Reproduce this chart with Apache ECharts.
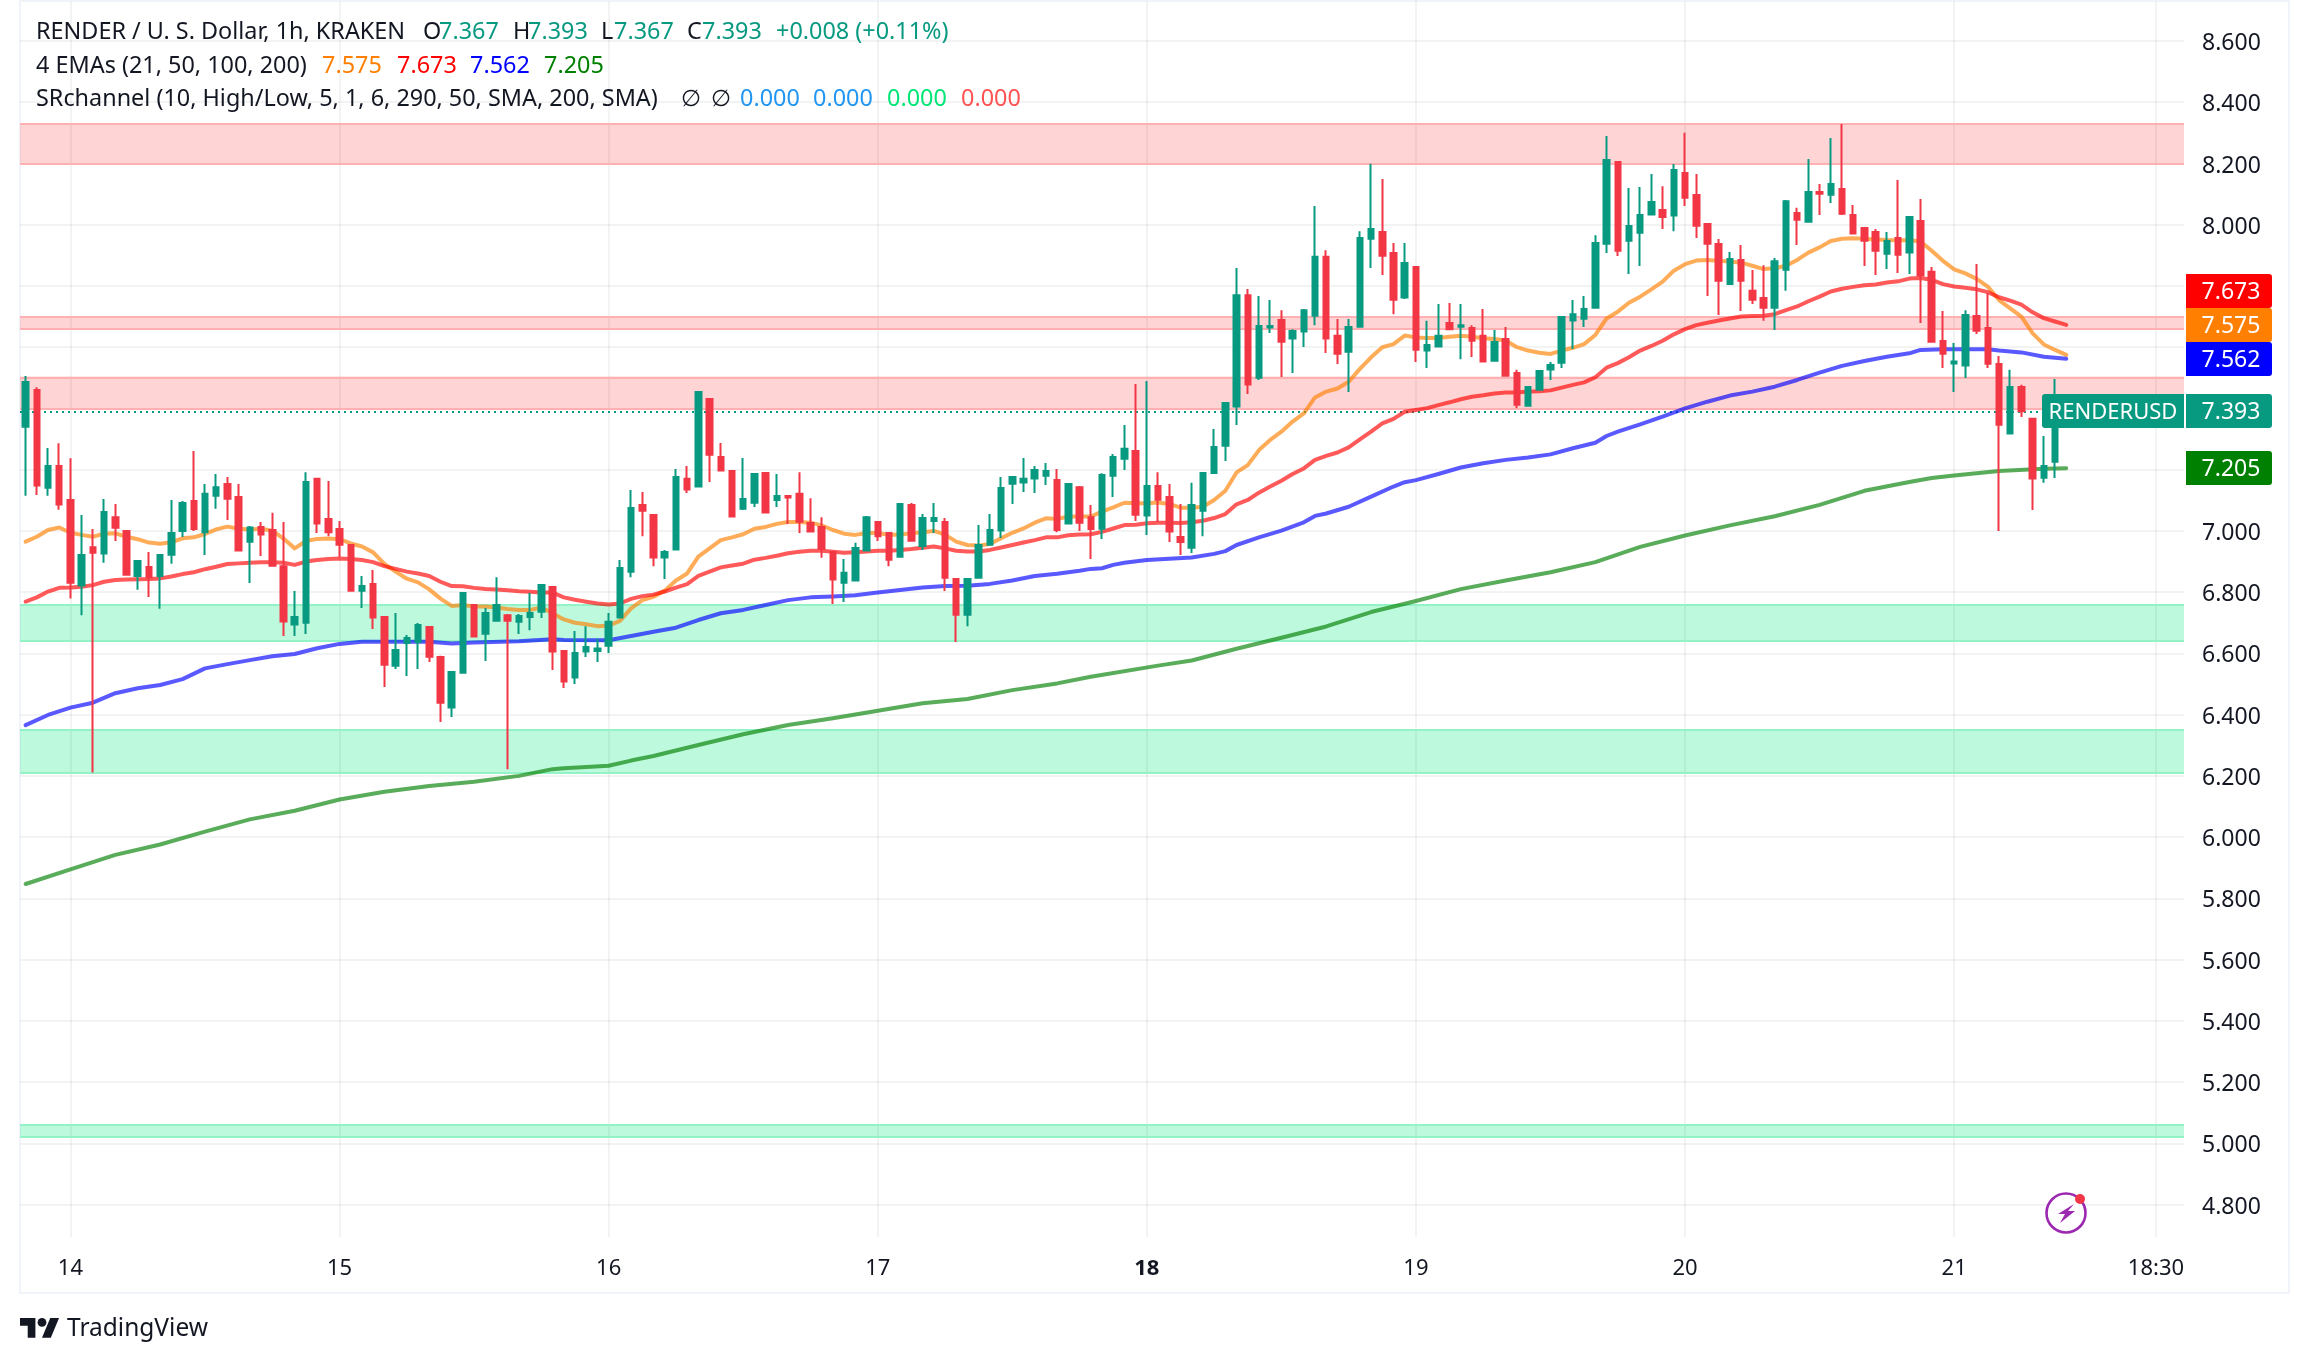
<!DOCTYPE html>
<html><head><meta charset="utf-8"><title>RENDER / U. S. Dollar</title>
<script src="https://cdn.jsdelivr.net/npm/echarts@6/dist/echarts.min.js"></script>
<style>html,body{margin:0;padding:0;background:#fff}#c{width:2308px;height:1364px}</style></head>
<body><div id="c"></div>
<script>
const slotCount = 193;
const dayTickIndex = [4,28,52,76,100,124,148,172,190];
const dayTickLabels = ['14','15','16','17','18','19','20','21','18:30'];
const priceTicks = [4.8,5.0,5.2,5.4,5.6,5.8,6.0,6.2,6.4,6.6,6.8,7.0,7.2,7.4,7.6,7.8,8.0,8.2,8.4,8.6];
const opens = [7.340,7.460,7.141,7.212,7.101,6.822,6.947,6.926,7.045,7.000,
6.853,6.882,6.853,6.922,7.000,7.098,6.996,7.115,7.153,7.111,
6.965,7.013,7.003,6.885,6.694,6.700,7.170,7.039,7.006,6.954,
6.805,6.827,6.719,6.560,6.634,6.637,6.686,6.588,6.423,6.537,
6.758,6.664,6.707,6.725,6.703,6.719,6.736,6.817,6.608,6.521,
6.606,6.608,6.625,6.717,6.867,7.085,7.052,6.913,6.939,7.170,
7.145,7.431,7.241,7.196,7.072,7.092,7.189,7.101,7.114,7.121,
7.026,7.013,6.931,6.831,6.838,6.936,7.029,6.993,6.916,7.085,
6.951,7.032,7.029,6.843,6.726,6.847,6.955,7.001,7.154,7.158,
7.171,7.180,7.166,7.024,7.143,7.045,7.007,7.180,7.236,7.261,
7.050,7.147,7.111,6.980,6.945,7.066,7.189,7.278,7.406,7.770,
7.500,7.664,7.689,7.628,7.651,7.703,7.895,7.637,7.585,7.667,
7.954,7.976,7.908,7.762,7.862,7.589,7.602,7.679,7.667,7.663,
7.637,7.556,7.627,7.516,7.409,7.461,7.527,7.549,7.687,7.693,
7.729,7.938,8.205,7.948,7.974,8.033,8.048,8.030,8.169,8.097,
8.002,7.937,7.806,7.885,7.784,7.761,7.729,7.853,8.038,8.010,
8.107,8.098,8.117,8.032,7.989,7.976,7.905,7.957,7.909,8.012,
7.846,7.620,7.547,7.540,7.702,7.663,7.545,7.318,7.470,7.366,
7.174,7.226,7.367];
const closes = [7.486,7.148,7.212,7.086,6.831,6.921,6.929,7.062,7.010,6.857,
6.902,6.849,6.921,6.993,7.091,7.006,7.121,7.143,7.105,6.936,
7.011,6.988,6.886,6.704,6.719,7.160,7.024,6.996,6.955,6.805,
6.820,6.717,6.563,6.611,6.650,6.693,6.589,6.439,6.539,6.797,
6.655,6.732,6.758,6.707,6.722,6.732,6.823,6.606,6.508,6.601,
6.621,6.616,6.703,6.879,7.075,7.066,6.913,6.931,7.176,7.135,
7.454,7.249,7.197,7.047,7.104,7.186,7.060,7.114,7.109,7.030,
6.998,6.942,6.841,6.863,6.944,7.045,6.983,6.906,7.088,6.968,
7.042,7.042,6.847,6.726,6.843,6.954,7.003,7.140,7.176,7.170,
7.199,7.196,7.003,7.153,7.027,7.006,7.183,7.241,7.268,7.053,
7.147,7.102,6.998,6.964,7.085,7.189,7.274,7.418,7.770,7.478,
7.669,7.669,7.618,7.653,7.721,7.895,7.628,7.579,7.666,7.957,
7.986,7.899,7.755,7.875,7.592,7.607,7.637,7.659,7.672,7.621,
7.553,7.617,7.507,7.412,7.470,7.522,7.542,7.699,7.708,7.725,
7.940,8.211,7.915,7.996,8.032,8.074,8.025,8.179,8.088,7.997,
7.938,7.817,7.888,7.817,7.755,7.729,7.881,8.077,8.016,8.107,
8.101,8.133,8.036,7.971,7.948,7.915,7.947,7.902,8.025,7.834,
7.618,7.579,7.553,7.705,7.654,7.546,7.347,7.470,7.391,7.171,
7.212,7.367,7.393];
const highs = [7.506,7.469,7.271,7.286,7.237,7.052,7.006,7.104,7.088,7.003,
6.902,6.931,6.921,7.101,7.098,7.261,7.153,7.186,7.176,7.153,
7.016,7.029,7.059,7.029,6.804,7.192,7.170,7.163,7.032,6.954,
6.853,6.872,6.722,6.732,6.660,6.699,6.686,6.592,6.539,6.797,
6.761,6.748,6.849,6.729,6.729,6.797,6.823,6.817,6.608,6.673,
6.689,6.647,6.732,6.905,7.134,7.127,7.055,6.938,7.202,7.212,
7.454,7.431,7.287,7.196,7.238,7.186,7.192,7.186,7.114,7.192,
7.107,7.045,6.934,6.908,6.961,7.049,7.029,6.996,7.088,7.091,
7.055,7.091,7.042,6.843,6.843,7.019,7.055,7.176,7.176,7.238,
7.212,7.222,7.202,7.153,7.147,7.085,7.188,7.251,7.346,7.480,
7.490,7.192,7.153,7.088,7.157,7.189,7.333,7.418,7.859,7.790,
7.767,7.754,7.721,7.659,7.725,8.061,7.917,7.692,7.692,7.979,
8.199,8.149,7.940,7.940,7.862,7.686,7.741,7.744,7.741,7.672,
7.725,7.656,7.666,7.526,7.470,7.522,7.552,7.699,7.754,7.767,
7.966,8.290,8.205,8.120,8.123,8.166,8.126,8.198,8.300,8.166,
8.002,7.953,7.911,7.934,7.852,7.868,7.891,8.081,8.055,8.215,
8.133,8.283,8.329,8.064,7.989,7.986,7.976,8.146,8.025,8.084,
7.862,7.718,7.614,7.721,7.872,7.777,7.571,7.526,7.477,7.366,
7.310,7.496,7.393];
const lows = [7.115,7.117,7.115,7.069,6.779,6.725,6.211,6.896,6.967,6.856,
6.808,6.784,6.746,6.893,6.980,7.000,6.921,7.072,7.036,6.934,
6.830,6.918,6.885,6.657,6.657,6.663,6.993,6.983,6.915,6.801,
6.748,6.680,6.490,6.549,6.526,6.549,6.572,6.376,6.392,6.537,
6.654,6.575,6.706,6.222,6.663,6.676,6.716,6.546,6.487,6.500,
6.588,6.572,6.601,6.716,6.849,6.983,6.885,6.843,6.938,7.124,
7.143,7.160,7.196,7.045,7.068,7.078,7.059,7.078,7.023,6.993,
6.996,6.912,6.761,6.768,6.836,6.934,6.967,6.885,6.912,6.967,
6.938,6.993,6.804,6.637,6.689,6.846,6.954,6.977,7.088,7.127,
7.124,7.150,6.996,7.023,7.000,6.908,6.974,7.111,7.199,7.032,
6.987,7.029,6.964,6.921,6.928,6.983,7.186,7.228,7.346,7.447,
7.493,7.646,7.503,7.516,7.601,7.672,7.581,7.545,7.454,7.666,
7.859,7.836,7.708,7.757,7.552,7.532,7.601,7.656,7.561,7.568,
7.552,7.555,7.506,7.401,7.408,7.460,7.493,7.532,7.594,7.666,
7.728,7.908,7.898,7.839,7.865,8.032,7.986,7.979,8.061,7.957,
7.767,7.705,7.803,7.718,7.741,7.686,7.656,7.784,7.934,8.009,
8.032,8.071,8.032,7.970,7.865,7.836,7.855,7.842,7.839,7.679,
7.617,7.532,7.454,7.499,7.643,7.532,7.000,7.317,7.372,7.068,
7.157,7.173,7.367];
const ema21 = [6.965,6.981,7.003,7.011,6.994,6.987,6.981,6.991,6.992,6.981,6.973,6.962,6.958,6.963,6.976,6.979,6.990,7.005,7.014,7.007,7.005,7.007,7.001,6.975,6.943,6.967,6.974,6.975,6.973,6.959,6.949,6.930,6.892,6.867,6.844,6.832,6.809,6.779,6.755,6.758,6.753,6.753,6.750,6.745,6.742,6.742,6.750,6.731,
6.711,6.700,6.695,6.689,6.691,6.706,6.747,6.774,6.785,6.805,6.838,6.861,6.916,6.943,6.970,6.979,6.989,7.007,7.013,7.023,7.029,7.029,7.027,7.018,7.003,6.991,6.987,6.993,6.993,6.987,6.988,6.992,6.996,7.000,6.988,6.965,6.954,6.952,6.957,6.976,6.994,7.008,7.027,7.041,7.039,7.047,7.047,7.047,
7.063,7.077,7.092,7.090,7.090,7.093,7.088,7.076,7.076,7.079,7.101,7.131,7.191,7.215,7.264,7.297,7.324,7.357,7.384,7.436,7.455,7.465,7.487,7.529,7.567,7.600,7.610,7.638,7.632,7.630,7.630,7.634,7.637,7.634,7.629,7.627,7.622,7.600,7.589,7.582,7.578,7.589,7.598,7.610,7.640,7.694,7.716,7.745,
7.765,7.789,7.814,7.850,7.871,7.883,7.885,7.882,7.880,7.876,7.866,7.855,7.858,7.866,7.885,7.909,7.926,7.947,7.954,7.956,7.954,7.952,7.950,7.949,7.949,7.945,7.915,7.882,7.854,7.841,7.823,7.798,7.754,7.727,7.700,7.645,7.609,7.591,7.575];
const ema50 = [6.769,6.783,6.802,6.814,6.815,6.818,6.823,6.834,6.840,6.841,6.842,6.843,6.845,6.851,6.859,6.865,6.875,6.883,6.892,6.894,6.896,6.898,6.898,6.896,6.889,6.900,6.905,6.908,6.910,6.908,6.905,6.898,6.885,6.876,6.867,6.861,6.853,6.834,6.820,6.819,6.814,6.810,6.809,6.806,6.803,6.801,6.799,6.799,
6.783,6.775,6.769,6.763,6.760,6.763,6.778,6.787,6.792,6.802,6.815,6.826,6.853,6.867,6.881,6.887,6.893,6.906,6.912,6.919,6.927,6.932,6.935,6.935,6.932,6.929,6.930,6.933,6.935,6.935,6.938,6.941,6.945,6.949,6.943,6.935,6.933,6.933,6.938,6.946,6.954,6.962,6.970,6.979,6.979,6.986,6.988,6.989,
6.997,7.008,7.019,7.020,7.025,7.027,7.027,7.026,7.028,7.033,7.042,7.055,7.087,7.101,7.125,7.145,7.164,7.186,7.204,7.232,7.245,7.256,7.273,7.299,7.324,7.351,7.366,7.389,7.395,7.401,7.411,7.420,7.430,7.438,7.443,7.449,7.452,7.452,7.455,7.456,7.459,7.468,7.477,7.485,7.502,7.533,7.548,7.567,
7.589,7.604,7.621,7.642,7.659,7.672,7.680,7.687,7.694,7.700,7.702,7.703,7.708,7.721,7.733,7.750,7.765,7.782,7.791,7.797,7.802,7.805,7.811,7.815,7.824,7.826,7.820,7.806,7.798,7.794,7.789,7.780,7.763,7.752,7.739,7.714,7.695,7.684,7.673];
const ema100 = [[0,6.366],[2,6.399],[4,6.423],[6,6.439],[8,6.470],[10,6.486],[12,6.497],[14,6.516],[16,6.551],[18,6.565],[20,6.578],[22,6.591],[24,6.598],[26,6.617],[28,6.631],[30,6.638],[32,6.638],[34,6.638],[36,6.638],[38,6.632],[40,6.636],[44,6.640],[47,6.646],[48,6.644],[52,6.643],[54,6.657],[56,6.671],[58,6.684],[60,6.709],[62,6.731],[64,6.742],[66,6.758],[68,6.774],[70,6.783],[72,6.786],[74,6.790],[76,6.799],[78,6.807],[80,6.815],[82,6.820],[84,6.821],[86,6.827],[88,6.838],[90,6.853],[92,6.860],[94,6.870],[95,6.876],[96,6.878],[97,6.889],[98,6.896],[100,6.905],[102,6.909],[104,6.913],[106,6.925],[107,6.934],[108,6.954],[110,6.979],[112,7.001],[114,7.028],[115,7.049],[116,7.057],[118,7.079],[120,7.112],[122,7.145],[123,7.159],[124,7.166],[126,7.186],[128,7.207],[130,7.221],[132,7.232],[134,7.240],[136,7.250],[138,7.270],[140,7.288],[141,7.310],[142,7.324],[144,7.348],[146,7.373],[148,7.400],[150,7.422],[152,7.442],[154,7.455],[156,7.471],[158,7.493],[160,7.517],[162,7.539],[164,7.555],[166,7.569],[168,7.580],[169,7.591],[171,7.593],[173,7.593],[175,7.593],[176,7.589],[178,7.583],[180,7.569],[182,7.562]];
const ema200 = [[0,5.847],[4,5.895],[8,5.942],[12,5.976],[16,6.018],[20,6.058],[24,6.086],[28,6.123],[32,6.148],[36,6.167],[40,6.181],[44,6.200],[47,6.222],[48,6.225],[52,6.233],[54,6.250],[56,6.265],[60,6.301],[64,6.336],[68,6.366],[72,6.388],[76,6.413],[80,6.437],[84,6.451],[88,6.480],[92,6.502],[95,6.524],[101,6.560],[104,6.577],[108,6.615],[112,6.651],[116,6.688],[120,6.735],[124,6.771],[128,6.810],[132,6.838],[136,6.865],[140,6.898],[144,6.948],[148,6.985],[152,7.018],[156,7.048],[160,7.085],[164,7.131],[168,7.160],[170,7.173],[172,7.181],[176,7.196],[180,7.203],[182,7.205]];
const resistanceBands = [[8.327,8.200],[7.699,7.657],[7.504,7.401]];
const supportBands = [[6.760,6.641],[6.348,6.211],[5.057,5.022]];
const lastPrice = 7.393;

const FONT = '"Noto Sans", sans-serif';
const INK = '#131722', UP = '#089981', DOWN = '#F23645';
const ORANGE = '#FF7F00', RED = '#FF0000', BLUE = '#0000FF', GREEN = '#008000';
const GRID = 'rgba(42,46,57,0.06)';

const categories = Array.from({length: slotCount}, (_, i) => String(i));
const candles = opens.map((o, i) => [o, closes[i], lows[i], highs[i]]);

const gridMarks = [
  ...priceTicks.map(v => ({yAxis: v, lineStyle: {color: GRID, width: 2, type: 'solid'}})),
  ...dayTickIndex.map(v => ({xAxis: v, lineStyle: {color: GRID, width: 2, type: 'solid'}}))
];
const edgeMarks = [];
resistanceBands.forEach(b => b.forEach(v => edgeMarks.push({yAxis: v, lineStyle: {color: '#FFB0B2', width: 2, type: 'solid'}})));
supportBands.forEach(b => b.forEach(v => edgeMarks.push({yAxis: v, lineStyle: {color: '#94F3C6', width: 2, type: 'solid'}})));
const bandAreas = [
  ...resistanceBands.map(b => [{yAxis: b[0], itemStyle: {color: 'rgba(255,82,82,0.25)'}}, {yAxis: b[1]}]),
  ...supportBands.map(b => [{yAxis: b[0], itemStyle: {color: 'rgba(0,230,118,0.26)'}}, {yAxis: b[1]}])
];

function emaSeries(name, color, data) {
  return {name, type: 'line', data, symbol: 'none', z: 2, silent: true,
    lineStyle: {color, width: 4, opacity: 0.65, cap: 'round', join: 'round'}};
}
function txt(x, y, text, fill, extra) {
  return {type: 'text', x, y, z: 50, silent: true,
    style: Object.assign({text, fill, font: '23.4px ' + FONT, textVerticalAlign: 'middle', verticalAlign: 'middle'}, extra || {})};
}
function priceTag(label, yTop, color) {
  return [
    {type: 'rect', z: 40, silent: true, shape: {x: 2186, y: yTop, width: 86, height: 34, r: [0, 3, 3, 0]}, style: {fill: color}},
    txt(2231, yTop + 18.5, label, '#fff', {textAlign: 'center', align: 'center', font: '23px ' + FONT})
  ];
}
const logoScale = 1.1;
const graphics = [
  {type: 'rect', z: 0, silent: true, shape: {x: 20, y: 1, width: 2269, height: 1292}, style: {fill: 'none', stroke: '#F0F3FA', lineWidth: 2}},
  txt(36, 32.5, 'RENDER / U. S. Dollar, 1h, KRAKEN', INK),
  txt(423, 32.5, 'O', INK), txt(439, 32.5, '7.367', UP),
  txt(513, 32.5, 'H', INK), txt(528, 32.5, '7.393', UP),
  txt(601, 32.5, 'L', INK), txt(614, 32.5, '7.367', UP),
  txt(687, 32.5, 'C', INK), txt(702, 32.5, '7.393', UP),
  txt(776, 32.5, '+0.008 (+0.11%)', UP),
  txt(36, 66.5, '4 EMAs (21, 50, 100, 200)', INK),
  txt(322, 66.5, '7.575', ORANGE), txt(397, 66.5, '7.673', RED), txt(470, 66.5, '7.562', BLUE), txt(544, 66.5, '7.205', GREEN),
  txt(36, 99.5, 'SRchannel (10, High/Low, 5, 1, 6, 290, 50, SMA, 200, SMA)', INK),
  txt(681, 99.5, '∅', INK), txt(711, 99.5, '∅', INK),
  txt(740, 99.5, '0.000', '#2196F3'), txt(813, 99.5, '0.000', '#2196F3'), txt(887, 99.5, '0.000', '#00E676'), txt(961, 99.5, '0.000', '#FF5252'),
  ...priceTag('7.673', 274, RED),
  ...priceTag('7.575', 308, ORANGE),
  ...priceTag('7.562', 342, BLUE),
  ...priceTag('7.393', 394, UP),
  ...priceTag('7.205', 451, GREEN),
  {type: 'rect', z: 40, silent: true, shape: {x: 2042, y: 394, width: 142, height: 34, r: [3, 0, 0, 3]}, style: {fill: UP}},
  txt(2113, 412.5, 'RENDERUSD', '#fff', {textAlign: 'center', align: 'center', font: '22px ' + FONT}),
  {type: 'circle', z: 30, silent: true, shape: {cx: 2066, cy: 1213, r: 19.5}, style: {fill: '#fff', stroke: '#9C27B0', lineWidth: 2.6}},
  {type: 'polygon', z: 31, silent: true, shape: {points: [[2074,1204],[2058,1214],[2065,1214],[2060,1223],[2075,1211],[2068,1211]]}, style: {fill: '#9C27B0'}},
  {type: 'circle', z: 32, silent: true, shape: {cx: 2080, cy: 1199, r: 5}, style: {fill: '#F23645'}},
  {type: 'group', x: 20, y: 1318, scaleX: logoScale, scaleY: logoScale, z: 30, silent: true, children: [
    {type: 'polygon', shape: {points: [[0,0],[14,0],[14,18],[7,18],[7,7],[0,7]]}, style: {fill: INK}},
    {type: 'polygon', shape: {points: [[27.5,0],[35.5,0],[28,18],[20,18]]}, style: {fill: INK}},
    {type: 'circle', shape: {cx: 20, cy: 4, r: 4}, style: {fill: INK}}
  ]},
  txt(67, 1329, 'TradingView', '#131722', {font: '24.5px ' + FONT})
];

const chart = echarts.init(document.getElementById('c'), null, {renderer: 'canvas', width: 2308, height: 1364});
chart.setOption({
  animation: false,
  backgroundColor: '#fff',
  textStyle: {fontFamily: FONT},
  grid: {left: 20, top: 1, width: 2164, height: 1236, containLabel: false},
  xAxis: {
    type: 'category', data: categories, boundaryGap: true,
    axisLine: {show: false}, axisTick: {show: false}, splitLine: {show: false},
    axisLabel: {
      interval: i => dayTickIndex.includes(i), hideOverlap: false, margin: 21, color: INK, fontSize: 22, fontFamily: FONT,
      formatter: (v) => {
        const k = dayTickIndex.indexOf(Number(v));
        if (k < 0) return '';
        return dayTickLabels[k] === '18' ? '{b|18}' : dayTickLabels[k];
      },
      rich: {b: {fontWeight: 'bold', fontSize: 22, color: INK, fontFamily: FONT}}
    }
  },
  yAxis: {
    type: 'value', position: 'right', min: 4.6941, max: 8.7306, scale: true,
    axisLine: {show: false}, axisTick: {show: false}, splitLine: {show: false},
    axisLabel: {customValues: priceTicks, margin: 18, color: INK, fontSize: 23, fontFamily: FONT,
      formatter: v => '{p|' + Number(v).toFixed(3) + '}',
      rich: {p: {color: INK, fontSize: 23, fontFamily: FONT, padding: [5, 0, 0, 0]}}}
  },
  series: [
    {
      name: 'RENDERUSD', type: 'candlestick', data: candles, z: 3, barWidth: 6, silent: true,
      itemStyle: {color: UP, color0: DOWN, borderColor: UP, borderColor0: DOWN, borderWidth: 2},
      markArea: {silent: true, z: 1, data: bandAreas},
      markLine: {silent: true, z: 1, symbol: 'none', label: {show: false},
        data: [...gridMarks, ...edgeMarks,
          {yAxis: lastPrice, lineStyle: {color: UP, width: 2, type: [2, 4]}}]}
    },
    emaSeries('EMA 21', ORANGE, ema21),
    emaSeries('EMA 50', RED, ema50),
    emaSeries('EMA 100', BLUE, ema100),
    emaSeries('EMA 200', GREEN, ema200)
  ],
  graphic: {elements: graphics}
});
</script></body></html>
